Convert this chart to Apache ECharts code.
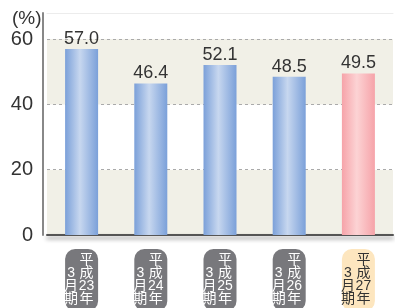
<!DOCTYPE html>
<html><head><meta charset="utf-8">
<script src="https://cdn.jsdelivr.net/npm/echarts@6/dist/echarts.min.js"></script>
<style>html,body{margin:0;padding:0;background:#fff}#c{width:395px;height:308px}</style>
</head><body><div id="c"></div>
<script>
var years = ['23', '24', '25', '26', '27'];
var categories = years.map(function (y) { return '平成' + y + '年3月期'; });
var values = [57.0, 46.4, 52.1, 48.5, 49.5];
var yTicks = [0, 20, 40, 60];
var highlightIndex = 4;

var font = '"Liberation Sans", Arial, "Noto Sans CJK JP", sans-serif';
function grad(edge, mid) {
  return new echarts.graphic.LinearGradient(0, 0, 1, 0, [
    { offset: 0, color: edge }, { offset: 0.45, color: mid }, { offset: 1, color: edge }
  ]);
}
function catStyle(bg, fg) {
  return {
    backgroundColor: bg, color: fg, fontFamily: font, fontSize: 14, lineHeight: 13,
    borderRadius: 10, padding: [5, 2, 5, 0],
    rich: {
      l: { width: 12, align: 'center', fontSize: 14, lineHeight: 13, fontFamily: font, color: fg },
      r: { width: 19, align: 'center', fontSize: 14, lineHeight: 13, fontFamily: font, color: fg }
    }
  };
}
var chart = echarts.init(document.getElementById('c'), null, { renderer: 'canvas' });
chart.setOption({
  animation: false,
  title: { text: '(%)', left: 7, top: 4, textStyle: { fontFamily: font, fontSize: 19, fontWeight: 'normal', color: '#333' } },
  grid: { left: 47, right: 2, top: 13, bottom: 73, containLabel: false, outerBoundsMode: 'none' },
  xAxis: [{
    type: 'category',
    data: categories.map(function (c, i) {
      return { value: c, textStyle: i === highlightIndex ? catStyle('#fde6bf', '#333') : catStyle('#78787c', '#fff') };
    }),
    axisLine: { lineStyle: { color: '#555', width: 2, shadowColor: 'rgba(0,0,0,0.45)', shadowBlur: 4, shadowOffsetY: 3 } },
    axisTick: { show: false },
    axisLabel: {
      interval: 0, margin: 14, hideOverlap: false,
      formatter: function (v) {
        var m = v.match(/^(..)(\d+)(年)(\d)(月)(期)$/);
        var right = ['平', '成', m[2], '年'];
        var left = [' ', m[4], '月', '期'];
        return right.map(function (r, i) { return '{l|' + left[i] + '}{r|' + r + '}'; }).join('\n');
      }
    }
  }, {
    type: 'category', position: 'top', data: categories,
    axisLine: { lineStyle: { color: '#ececec', width: 1 } },
    axisTick: { show: false }, axisLabel: { show: false }
  }],
  yAxis: {
    type: 'value', min: 0, max: 68, interval: 20, offset: 4,
    axisLine: { show: true, lineStyle: { color: '#888', width: 2 } },
    axisTick: { show: false },
    axisLabel: { showMaxLabel: false, margin: 10, fontFamily: font, fontSize: 20, color: '#333',
      formatter: function (v) { return yTicks.indexOf(v) >= 0 ? String(v) : ''; } },
    splitLine: { show: true, lineStyle: { color: '#aaa', type: [3, 3], width: 1 } },
    splitArea: { show: true, areaStyle: { color: ['#f1f0e7', '#ffffff'] } }
  },
  series: [{
    type: 'bar',
    barWidth: 33,
    data: values.map(function (v, i) {
      return {
        value: v,
        itemStyle: { color: i === highlightIndex ? grad('#f6a3a9', '#fcd3d4') : grad('#7ba0d9', '#c7d7ef') }
      };
    }),
    label: {
      show: true, position: 'top', distance: 1,
      fontFamily: font, fontSize: 18, color: '#333',
      formatter: function (p) { return p.value.toFixed(1); }
    }
  }]
});
</script></body></html>
